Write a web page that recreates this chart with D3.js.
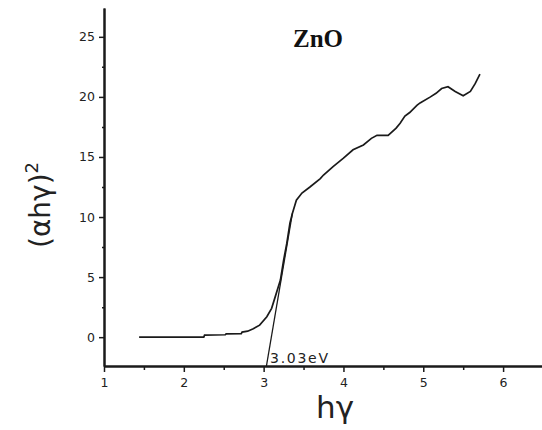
<!DOCTYPE html>
<html>
<head>
<meta charset="utf-8">
<script src="https://cdn.jsdelivr.net/npm/d3@7"></script>
<style>
  body { margin: 0; background: #fff; }
  svg { display: block; }
</style>
</head>
<body>
<svg width="542" height="430"></svg>
<script>
// photon energy (eV) and (alpha h nu)^2
const hv = [1.44, 2.25, 2.26, 2.52, 2.53, 2.72, 2.73, 2.80, 2.87, 2.95, 3.04, 3.10, 3.14, 3.21, 3.25,
  3.29, 3.33, 3.36, 3.41, 3.48, 3.58, 3.71, 3.75, 3.87, 4.00, 4.12, 4.25, 4.35, 4.42, 4.56,
  4.66, 4.71, 4.77, 4.83, 4.92, 4.96, 5.09, 5.16, 5.23, 5.31, 5.40, 5.50, 5.59, 5.65, 5.71]
const absSq = [0, 0, 0.17, 0.2, 0.27, 0.3, 0.42, 0.5, 0.7, 1.0, 1.7, 2.4, 3.25, 4.75, 6.4,
  7.8, 9.5, 10.3, 11.4, 12.0, 12.5, 13.2, 13.5, 14.2, 14.9, 15.6, 16.0, 16.55, 16.8, 16.8,
  17.4, 17.8, 18.4, 18.7, 19.3, 19.5, 20.0, 20.3, 20.7, 20.85, 20.45, 20.1, 20.45, 21.1, 21.9]

// linear fit of the absorption edge
const fitX = [3.035, 3.36]
const fitY = [-2.4, 10.3]

const xMajor = [1, 2, 3, 4, 5, 6]
const xMinor = [1.5, 2.5, 3.5, 4.5, 5.5]
const yMajor = [0, 5, 10, 15, 20, 25]
const yMinor = [2.5, 7.5, 12.5, 17.5, 22.5]

const svg = d3.select('svg')
const ink = '#1a1a1a'

const x = d3.scaleLinear().domain([1, 6.5]).range([104, 543])
const y = d3.scaleLinear().domain([-2.4, 27.4]).range([366, 8])

// minor ticks first, so the major axis sits on top
svg.append('g')
  .attr('transform', `translate(0,${y(-2.4)})`)
  .call(d3.axisBottom(x).tickValues(xMinor).tickSize(4).tickSizeOuter(0).tickFormat(''))
svg.append('g')
  .attr('transform', `translate(${x(1)},0)`)
  .call(d3.axisLeft(y).tickValues(yMinor).tickSize(2).tickSizeOuter(0).tickFormat(''))

svg.append('g')
  .attr('transform', `translate(0,${y(-2.4)})`)
  .call(d3.axisBottom(x).tickValues(xMajor).tickFormat(d3.format('d'))
    .tickSize(6).tickSizeOuter(0).tickPadding(6))
svg.append('g')
  .attr('transform', `translate(${x(1)},0)`)
  .call(d3.axisLeft(y).tickValues(yMajor).tickFormat(d3.format('d'))
    .tickSize(5).tickSizeOuter(0).tickPadding(4))

svg.selectAll('.domain').attr('stroke', ink).attr('stroke-width', 2)
svg.selectAll('.tick line').attr('stroke', ink).attr('stroke-width', 1.5)
svg.selectAll('.tick text')
  .attr('fill', '#222')
  .style('font-family', 'DejaVu Sans, sans-serif')
  .style('font-size', '12.5px')

const line = d3.line().x(d => x(d[0])).y(d => y(d[1]))

svg.append('path')
  .datum(d3.zip(hv, absSq))
  .attr('d', line)
  .attr('fill', 'none')
  .attr('stroke', ink)
  .attr('stroke-width', 1.7)

svg.append('path')
  .datum(d3.zip(fitX, fitY))
  .attr('d', line)
  .attr('fill', 'none')
  .attr('stroke', ink)
  .attr('stroke-width', 1.3)

svg.append('text')
  .attr('x', x(3.08))
  .attr('y', 363)
  .attr('textLength', 58)
  .attr('lengthAdjust', 'spacing')
  .attr('fill', '#222')
  .style('font-family', 'DejaVu Sans, sans-serif')
  .style('font-size', '14px')
  .text('3.03eV')

svg.append('text')
  .attr('x', 318)
  .attr('y', 47)
  .attr('text-anchor', 'middle')
  .attr('fill', '#111')
  .style('font-family', 'Liberation Serif, serif')
  .style('font-weight', 'bold')
  .style('font-size', '25px')
  .text('ZnO')

svg.append('text')
  .attr('x', 335)
  .attr('y', 418)
  .attr('text-anchor', 'middle')
  .attr('fill', '#222')
  .style('font-family', 'DejaVu Sans, sans-serif')
  .style('font-size', '31px')
  .text('hγ')

const yt = svg.append('text')
  .attr('transform', 'translate(50,205) rotate(-90)')
  .attr('text-anchor', 'middle')
  .attr('fill', '#222')
  .style('font-family', 'DejaVu Sans, sans-serif')
  .style('font-size', '28px')
yt.append('tspan').text('(αhγ)')
yt.append('tspan').attr('dy', -12).style('font-size', '18px').text('2')
</script>
</body>
</html>
